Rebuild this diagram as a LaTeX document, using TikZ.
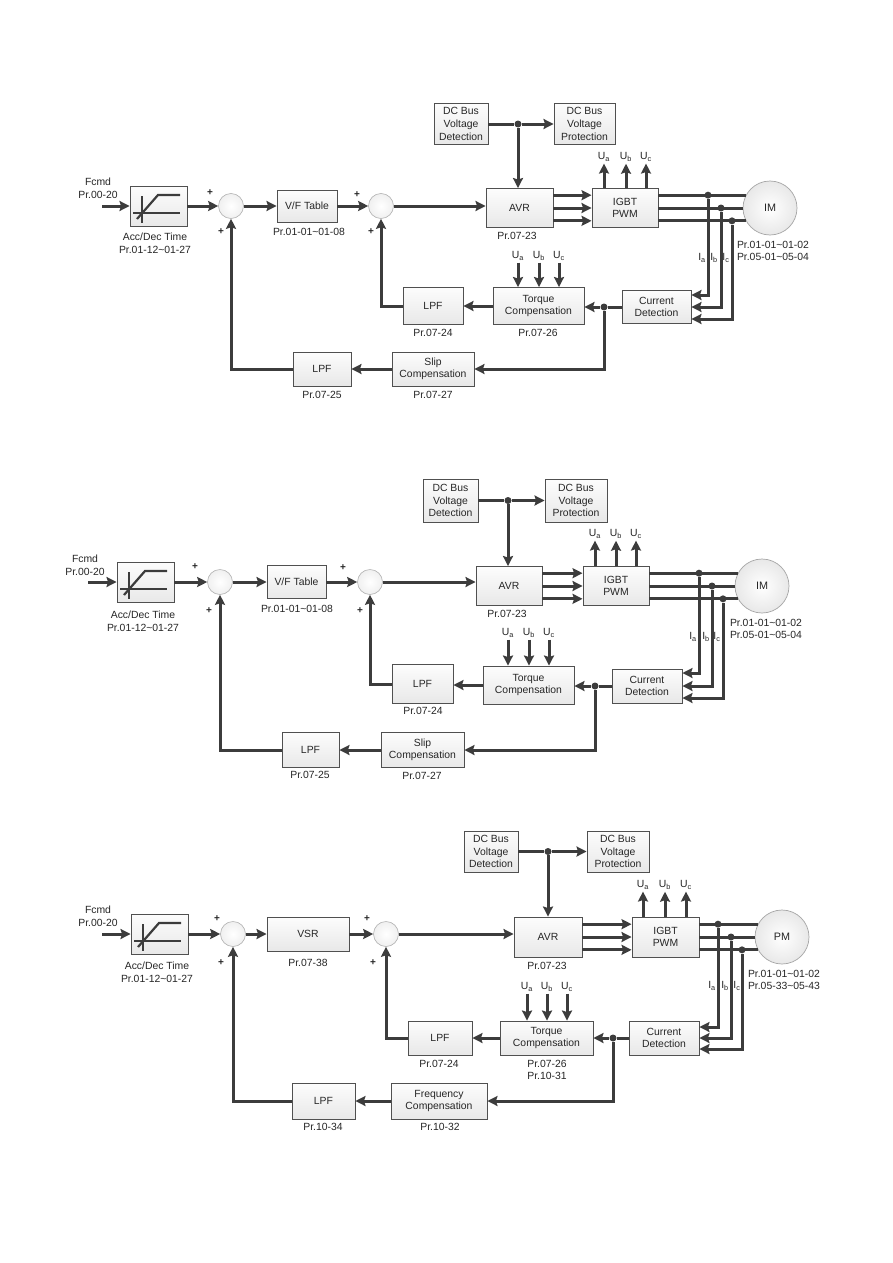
\documentclass[tikz,border=0pt]{standalone}
\usepackage{fontspec}
\setmainfont{Liberation Sans}
\usetikzlibrary{arrows.meta,calc}
\definecolor{wirec}{HTML}{3C3C3C}
\definecolor{boxd}{HTML}{505050}
\newcommand\tld{\textasciitilde}
\newcommand\sbs[1]{\textsubscript{#1}}
\tikzset{
 blk/.style={draw=boxd, line width=0.9pt, top color=black!1, bottom color=black!9, align=center, inner sep=0pt, font=\fontsize{10.4}{12.6}\selectfont, text=black!85},
 lbl/.style={inner sep=0pt, align=center, font=\fontsize{10.4}{12.6}\selectfont, text=black!85},
 ulbl/.style={inner sep=2pt, font=\fontsize{10.4}{12.6}\selectfont, text=black!85},
 sumc/.style={circle, draw=black!30, line width=0.6pt, inner color=white, outer color=black!6, minimum size=25pt, inner sep=0pt},
 motor/.style={circle, draw=black!35, line width=0.7pt, inner color=white, outer color=black!9, minimum size=54pt, inner sep=0pt, font=\fontsize{10.8}{12}\selectfont, text=black!85},
 wire/.style={draw=wirec, line width=3pt},
 arr/.style={wire, -{Stealth[length=10pt,width=10pt,inset=1.5pt]}},
 dot/.style={circle, fill=wirec, inner sep=0pt, minimum size=7pt},
 plus/.style={inner sep=0pt, font=\fontsize{10}{10}\selectfont\bfseries, text=black!85},
 gline/.style={draw=wirec, line width=2.2pt},
}
\newcommand\bx[6]{\node[blk, minimum width=#4pt, minimum height=#5pt] (#1) at (#2,#3) {#6};}
\newcommand\accg[1]{%
 \draw[gline] ($(#1.center)+(-16.5,-10)$) -- ($(#1.center)+(-16.5,17)$);
 \draw[gline] ($(#1.center)+(-25.5,7)$) -- ($(#1.center)+(21.5,7)$);
 \draw[gline] ($(#1.center)+(-21.5,13)$) -- ($(#1.center)+(-0.5,-11)$) -- ($(#1.center)+(21.5,-11)$);}
\begin{document}
\begin{tikzpicture}[x=1pt,y=-1pt]
\useasboundingbox (0,0) rectangle (893,1263);
\fill[white] (0,0) rectangle (893,1263);

%================ Diagram 1 ================
\node[lbl] (fc1) at (98,188) {Fcmd\\Pr.00-20};
\coordinate (in1) at (102,206);
\bx{acc1}{158.5}{206}{57}{40}{}
\accg{acc1}
\node[lbl] (accl1) at (155,243) {Acc/Dec Time\\Pr.01-12\tld01-27};
\node[sumc] (s11) at (231,206) {};
\node[plus] (p11) at (210,193) {+};
\node[plus] (p12) at (221,232) {+};
\bx{vf1}{307}{206}{60}{32}{V/F Table}
\node[lbl] (vfl1) at (309,232) {Pr.01-01\tld01-08};
\node[sumc] (s12) at (381,206) {};
\node[plus] (p13) at (357,195) {+};
\node[plus] (p14) at (371,232) {+};
\bx{avr1}{519.5}{208}{67}{39}{AVR}
\node[lbl] (avrl1) at (517,236) {Pr.07-23};
\bx{igbt1}{625}{208}{66}{39}{IGBT\\PWM}
\node[motor] (im1) at (770,208) {IM};
\node[lbl] (iml1) at (773,251) {Pr.01-01\tld01-02\\Pr.05-01\tld05-04};
\bx{dcd1}{461}{124}{54}{41}{DC Bus\\Voltage\\Detection}
\bx{dcp1}{584.5}{124}{61}{41}{DC Bus\\Voltage\\Protection}
\node[dot] (jdc1) at (518,124) {};
\bx{cur1}{656.5}{307}{69}{33}{Current\\Detection}
\bx{tq1}{538.5}{306}{91}{37}{Torque\\Compensation}
\node[lbl] (tql1) at (538,333) {Pr.07-26};
\bx{lpa1}{433}{306}{60}{37}{LPF}
\node[lbl] (lpal1) at (433,333) {Pr.07-24};
\bx{slip1}{433}{369}{82}{34}{Slip\\Compensation}
\node[lbl] (slipl1) at (433,395) {Pr.07-27};
\bx{lpb1}{322}{369}{58}{34}{LPF}
\node[lbl] (lpbl1) at (322,395) {Pr.07-25};
\node[dot] (jt1) at (604,307) {};
\node[ulbl] (ua1) at (604,157) {U\sbs{a}};
\node[ulbl] (ub1) at (626,157) {U\sbs{b}};
\node[ulbl] (uc1) at (646,157) {U\sbs{c}};
\node[ulbl] (va1) at (518,256) {U\sbs{a}};
\node[ulbl] (vb1) at (539,256) {U\sbs{b}};
\node[ulbl] (vc1) at (559,256) {U\sbs{c}};
\node[lbl] (ia1) at (702,258) {I\sbs{a}};
\node[lbl] (ib1) at (714,258) {I\sbs{b}};
\node[lbl] (ic1) at (726,258) {I\sbs{c}};

\draw[arr] (in1) -- (acc1.west);
\draw[arr] (acc1.east) -- (s11.west);
\draw[arr] (s11.east) -- (vf1.west);
\draw[arr] (vf1.east) -- (s12.west);
\draw[arr] (s12.east) -- (s12.east -| avr1.west);
\draw[wire] (dcd1.east) -- (jdc1);
\draw[arr] (jdc1) -- (dcp1.west);
\draw[arr] (jdc1) -- (jdc1 |- avr1.north);
\draw[arr] (avr1.east |- im1.152) -- (igbt1.west |- im1.152);
\draw[arr] (avr1.east) -- (igbt1.west);
\draw[arr] (avr1.east |- im1.208) -- (igbt1.west |- im1.208);
\draw[wire] (igbt1.east |- im1.152) -- (im1.152);
\draw[wire] (igbt1.east) -- (im1.west);
\draw[wire] (igbt1.east |- im1.208) -- (im1.208);
\node[dot] (da1) at (708,0 |- im1.152) {};
\node[dot] (db1) at (721,0 |- im1.west) {};
\node[dot] (dc1) at (732,0 |- im1.208) {};
\draw[arr] (da1) |- ($(cur1.east)+(0,-12)$);
\draw[arr] (db1) |- (cur1.east);
\draw[arr] (dc1) |- ($(cur1.east)+(0,12)$);
\draw[arr] (igbt1.north -| ua1) -- (ua1.south);
\draw[arr] (igbt1.north -| ub1) -- (ub1.south);
\draw[arr] (igbt1.north -| uc1) -- (uc1.south);
\draw[arr] (va1.south) -- (va1 |- tq1.north);
\draw[arr] (vb1.south) -- (vb1 |- tq1.north);
\draw[arr] (vc1.south) -- (vc1 |- tq1.north);
\draw[wire] (cur1.west) -- (jt1);
\draw[arr] (jt1) -- (jt1 -| tq1.east);
\draw[arr] (tq1.west) -- (tq1.west -| lpa1.east);
\draw[arr] (lpa1.west) -| (s12.south);
\draw[arr] (jt1) |- (slip1.east);
\draw[arr] (slip1.west) -- (lpb1.east);
\draw[arr] (lpb1.west) -| (s11.south);

%================ Diagram 2 ================
\node[lbl] (fc2) at (85,565) {Fcmd\\Pr.00-20};
\coordinate (in2) at (88,582);
\bx{acc2}{145.5}{582}{57}{40}{}
\accg{acc2}
\node[lbl] (accl2) at (143,621) {Acc/Dec Time\\Pr.01-12\tld01-27};
\node[sumc] (s21) at (220,582) {};
\node[plus] (p21) at (195,567) {+};
\node[plus] (p22) at (209,611) {+};
\bx{vf2}{296.5}{582}{59}{33}{V/F Table}
\node[lbl] (vfl2) at (297,609) {Pr.01-01\tld01-08};
\node[sumc] (s22) at (370,582) {};
\node[plus] (p23) at (343,568) {+};
\node[plus] (p24) at (360,611) {+};
\bx{avr2}{509}{586}{66}{39}{AVR}
\node[lbl] (avrl2) at (507,614) {Pr.07-23};
\bx{igbt2}{616}{586}{66}{39}{IGBT\\PWM}
\node[motor] (im2) at (762,586) {IM};
\node[lbl] (iml2) at (766,629) {Pr.01-01\tld01-02\\Pr.05-01\tld05-04};
\bx{dcd2}{450.5}{500.5}{55}{43}{DC Bus\\Voltage\\Detection}
\bx{dcp2}{576}{500.5}{62}{43}{DC Bus\\Voltage\\Protection}
\node[dot] (jdc2) at (508,500.5) {};
\bx{cur2}{647}{686}{70}{34}{Current\\Detection}
\bx{tq2}{528.5}{685}{91}{38}{Torque\\Compensation}
\bx{lpa2}{422.5}{684}{61}{39}{LPF}
\node[lbl] (lpal2) at (423,711) {Pr.07-24};
\bx{slip2}{422.5}{750}{83}{35}{Slip\\Compensation}
\node[lbl] (slipl2) at (422,776) {Pr.07-27};
\bx{lpb2}{310.5}{750}{57}{35}{LPF}
\node[lbl] (lpbl2) at (310,775) {Pr.07-25};
\node[dot] (jt2) at (595,686) {};
\node[ulbl] (ua2) at (595,534) {U\sbs{a}};
\node[ulbl] (ub2) at (616,534) {U\sbs{b}};
\node[ulbl] (uc2) at (636,534) {U\sbs{c}};
\node[ulbl] (va2) at (508,633) {U\sbs{a}};
\node[ulbl] (vb2) at (529,633) {U\sbs{b}};
\node[ulbl] (vc2) at (549,633) {U\sbs{c}};
\node[lbl] (ia2) at (693,637) {I\sbs{a}};
\node[lbl] (ib2) at (706,637) {I\sbs{b}};
\node[lbl] (ic2) at (717,637) {I\sbs{c}};

\draw[arr] (in2) -- (acc2.west);
\draw[arr] (acc2.east) -- (s21.west);
\draw[arr] (s21.east) -- (vf2.west);
\draw[arr] (vf2.east) -- (s22.west);
\draw[arr] (s22.east) -- (s22.east -| avr2.west);
\draw[wire] (dcd2.east) -- (jdc2);
\draw[arr] (jdc2) -- (dcp2.west);
\draw[arr] (jdc2) -- (jdc2 |- avr2.north);
\draw[arr] (avr2.east |- im2.152) -- (igbt2.west |- im2.152);
\draw[arr] (avr2.east) -- (igbt2.west);
\draw[arr] (avr2.east |- im2.208) -- (igbt2.west |- im2.208);
\draw[wire] (igbt2.east |- im2.152) -- (im2.152);
\draw[wire] (igbt2.east) -- (im2.west);
\draw[wire] (igbt2.east |- im2.208) -- (im2.208);
\node[dot] (da2) at (699,0 |- im2.152) {};
\node[dot] (db2) at (712,0 |- im2.west) {};
\node[dot] (dc2) at (723,0 |- im2.208) {};
\draw[arr] (da2) |- ($(cur2.east)+(0,-13)$);
\draw[arr] (db2) |- (cur2.east);
\draw[arr] (dc2) |- ($(cur2.east)+(0,12)$);
\draw[arr] (igbt2.north -| ua2) -- (ua2.south);
\draw[arr] (igbt2.north -| ub2) -- (ub2.south);
\draw[arr] (igbt2.north -| uc2) -- (uc2.south);
\draw[arr] (va2.south) -- (va2 |- tq2.north);
\draw[arr] (vb2.south) -- (vb2 |- tq2.north);
\draw[arr] (vc2.south) -- (vc2 |- tq2.north);
\draw[wire] (cur2.west) -- (jt2);
\draw[arr] (jt2) -- (jt2 -| tq2.east);
\draw[arr] (tq2.west) -- (tq2.west -| lpa2.east);
\draw[arr] (lpa2.west) -| (s22.south);
\draw[arr] (jt2) |- (slip2.east);
\draw[arr] (slip2.west) -- (lpb2.east);
\draw[arr] (lpb2.west) -| (s21.south);

%================ Diagram 3 ================
\node[lbl] (fc3) at (98,916) {Fcmd\\Pr.00-20};
\coordinate (in3) at (102,934);
\bx{acc3}{159.5}{934}{57}{40}{}
\accg{acc3}
\node[lbl] (accl3) at (157,972) {Acc/Dec Time\\Pr.01-12\tld01-27};
\node[sumc] (s31) at (233,934) {};
\node[plus] (p31) at (217,919) {+};
\node[plus] (p32) at (221,963) {+};
\bx{vsr3}{308}{934}{82}{34}{VSR}
\node[lbl] (vsrl3) at (308,963) {Pr.07-38};
\node[sumc] (s32) at (386,934) {};
\node[plus] (p33) at (367,919) {+};
\node[plus] (p34) at (373,963) {+};
\bx{avr3}{548}{937}{68}{40}{AVR}
\node[lbl] (avrl3) at (547,966) {Pr.07-23};
\bx{igbt3}{665.5}{937}{67}{40}{IGBT\\PWM}
\node[motor] (im3) at (782,937) {PM};
\node[lbl] (iml3) at (784,980) {Pr.01-01\tld01-02\\Pr.05-33\tld05-43};
\bx{dcd3}{491}{851.5}{54}{41}{DC Bus\\Voltage\\Detection}
\bx{dcp3}{618}{851.5}{62}{41}{DC Bus\\Voltage\\Protection}
\node[dot] (jdc3) at (548,851.5) {};
\bx{cur3}{664}{1038}{70}{34}{Current\\Detection}
\bx{tq3}{546.5}{1038}{93}{34}{Torque\\Compensation}
\node[lbl] (tql3) at (547,1070) {Pr.07-26\\Pr.10-31};
\bx{lpa3}{440}{1038}{64}{34}{LPF}
\node[lbl] (lpal3) at (439,1064) {Pr.07-24};
\bx{fq3}{439}{1101}{96}{36}{Frequency\\Compensation}
\node[lbl] (fql3) at (440,1127) {Pr.10-32};
\bx{lpb3}{323.5}{1101}{63}{36}{LPF}
\node[lbl] (lpbl3) at (323,1127) {Pr.10-34};
\node[dot] (jt3) at (613,1038) {};
\node[ulbl] (ua3) at (643,885) {U\sbs{a}};
\node[ulbl] (ub3) at (665,885) {U\sbs{b}};
\node[ulbl] (uc3) at (686,885) {U\sbs{c}};
\node[ulbl] (va3) at (527,987) {U\sbs{a}};
\node[ulbl] (vb3) at (547,987) {U\sbs{b}};
\node[ulbl] (vc3) at (567,987) {U\sbs{c}};
\node[lbl] (ia3) at (712,986) {I\sbs{a}};
\node[lbl] (ib3) at (725,986) {I\sbs{b}};
\node[lbl] (ic3) at (737,986) {I\sbs{c}};

\draw[arr] (in3) -- (acc3.west);
\draw[arr] (acc3.east) -- (s31.west);
\draw[arr] (s31.east) -- (vsr3.west);
\draw[arr] (vsr3.east) -- (s32.west);
\draw[arr] (s32.east) -- (s32.east -| avr3.west);
\draw[wire] (dcd3.east) -- (jdc3);
\draw[arr] (jdc3) -- (dcp3.west);
\draw[arr] (jdc3) -- (jdc3 |- avr3.north);
\draw[arr] (avr3.east |- im3.152) -- (igbt3.west |- im3.152);
\draw[arr] (avr3.east) -- (igbt3.west);
\draw[arr] (avr3.east |- im3.208) -- (igbt3.west |- im3.208);
\draw[wire] (igbt3.east |- im3.152) -- (im3.152);
\draw[wire] (igbt3.east) -- (im3.west);
\draw[wire] (igbt3.east |- im3.208) -- (im3.208);
\node[dot] (da3) at (718,0 |- im3.152) {};
\node[dot] (db3) at (731,0 |- im3.west) {};
\node[dot] (dc3) at (742,0 |- im3.208) {};
\draw[arr] (da3) |- ($(cur3.east)+(0,-11)$);
\draw[arr] (db3) |- (cur3.east);
\draw[arr] (dc3) |- ($(cur3.east)+(0,11)$);
\draw[arr] (igbt3.north -| ua3) -- (ua3.south);
\draw[arr] (igbt3.north -| ub3) -- (ub3.south);
\draw[arr] (igbt3.north -| uc3) -- (uc3.south);
\draw[arr] (va3.south) -- (va3 |- tq3.north);
\draw[arr] (vb3.south) -- (vb3 |- tq3.north);
\draw[arr] (vc3.south) -- (vc3 |- tq3.north);
\draw[wire] (cur3.west) -- (jt3);
\draw[arr] (jt3) -- (jt3 -| tq3.east);
\draw[arr] (tq3.west) -- (tq3.west -| lpa3.east);
\draw[arr] (lpa3.west) -| (s32.south);
\draw[arr] (jt3) |- (fq3.east);
\draw[arr] (fq3.west) -- (lpb3.east);
\draw[arr] (lpb3.west) -| (s31.south);
\end{tikzpicture}
\end{document}
